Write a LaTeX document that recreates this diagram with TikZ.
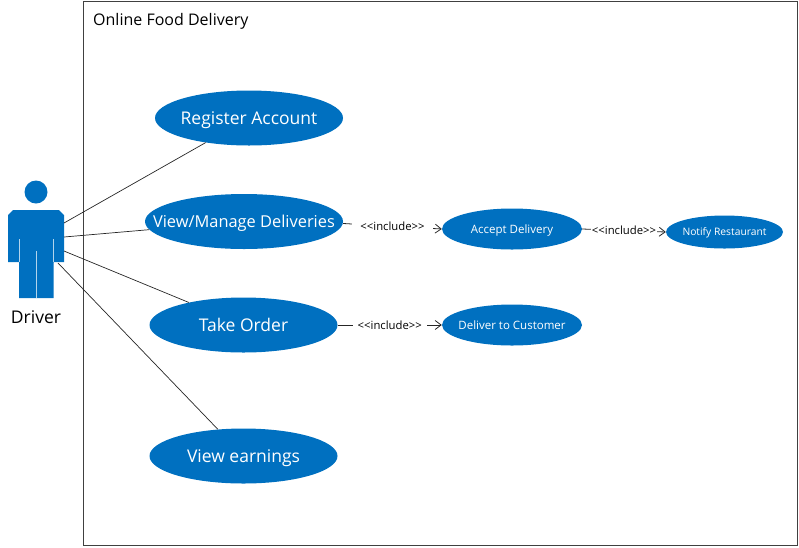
\documentclass[tikz,border=0pt]{standalone}
\usepackage{fontspec}
\setmainfont{Open Sans}
\usetikzlibrary{arrows,arrows.meta,positioning,shapes.geometric}
\definecolor{ucblue}{RGB}{0,112,192}
\newcommand{\uctext}[1]{\smash{\raisebox{-0.36em}{\makebox[0pt]{#1}}}}

\begin{document}
\begin{tikzpicture}[x=1pt,y=-1pt,
	>=stealth',
	usecase/.style = {ellipse,fill=ucblue,text=white,inner sep=0pt},
	bigcase/.style = {usecase,minimum width=188pt,minimum height=55pt,font=\fontsize{17.5}{20}\selectfont},
	midcase/.style = {usecase,minimum width=140pt,minimum height=41pt,font=\fontsize{11.5}{14}\selectfont},
	lowcase/.style = {usecase,minimum width=117pt,minimum height=33pt,font=\fontsize{10.3}{12}\selectfont},
	assoc/.style = {black!85,line width=0.7pt},
	incl/.style = {black!85,line width=0.8pt,-{Straight Barb[length=6pt,width=9pt]}},
	el/.style = {fill=white,font=\fontsize{11.3}{14}\selectfont,text=black}
	]
	\useasboundingbox (0,0) rectangle (799,547);
	\node (frame) [draw=black!75,line width=0.9pt,minimum width=714pt,minimum height=544pt,inner sep=0pt] at (440,273) {};
	\node (title) [right,inner sep=0pt,font=\fontsize{16}{18}\selectfont] at (93,21) {Online Food Delivery};

	% driver
	\node (head) [circle,fill=ucblue,minimum size=23pt,inner sep=0pt] at (36,192) {};
	\fill[ucblue] (13,210) -- (59,210) -- (64,215) -- (64,262) -- (53.5,262) -- (53.5,298) -- (19,298) -- (19,262) -- (8,262) -- (8,215) -- cycle;
	\draw[white!70!ucblue,line width=0.8pt] (19,239) -- (19,262) (53,239) -- (53,262) (36,251) -- (36,298);
	\node (driver) [font=\fontsize{17.5}{20}\selectfont,inner sep=0pt] at (36,317) {Driver};
	\coordinate (d0) at (64,223);
	\coordinate (d1) at (64,237);
	\coordinate (d2) at (64,251);
	\coordinate (d3) at (58,263);

	\node (reg) [bigcase] at (249,118) {\uctext{Register Account}};
	\node (view) [bigcase,minimum width=198pt,font=\fontsize{16.4}{20}\selectfont] at (244,221.5) {\uctext{View/Manage Deliveries}};
	\node (take) [bigcase] at (243.5,325) {\uctext{Take Order}};
	\node (earn) [bigcase] at (243.5,456) {\uctext{View earnings}};

	\node (acc) [midcase] at (512,229) {\uctext{Accept Delivery}};
	\node (cust) [midcase] at (512,325) {\uctext{Deliver to Customer}};
	\node (noti) [lowcase] at (724.5,232) {\uctext{Notify Restaurant}};

	\path[assoc]
	(d0)  edge  (reg)
	(d1)  edge  (view)
	(d2)  edge  (take)
	(d3)  edge  (earn);

	\draw[incl] (view.east) ++(0,2) coordinate (v1) -- (acc.west) node[el,pos=0.5,inner xsep=8pt,inner ysep=1pt] (i1) {<{}<include>{}>};
	\draw[incl] (acc.east) -- (noti.west) node[el,pos=0.5,inner sep=0.5pt] (i2) {<{}<include>{}>};
	\draw[incl] (take.east) -- (cust.west) node[el,pos=0.5,inner xsep=5pt,inner ysep=1pt] (i3) {<{}<include>{}>};
\end{tikzpicture}
\end{document}
